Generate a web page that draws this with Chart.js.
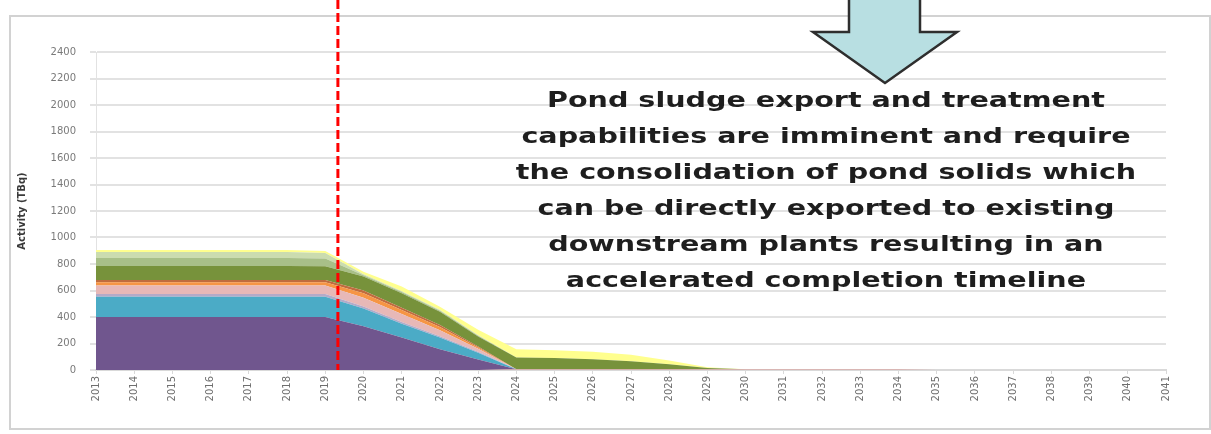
<!DOCTYPE html>
<html>
<head>
<meta charset="utf-8">
<script src="https://cdn.jsdelivr.net/npm/chart.js@4.4.0/dist/chart.umd.min.js"></script>
<style>
  html, body { margin: 0; padding: 0; background: #fff; }
  #wrap { position: relative; width: 1211px; height: 434px; overflow: hidden; }
  #frame { position: absolute; left: 9px; top: 15px; width: 1198px; height: 411px; border: 2px solid #d2d2d2; }
  #chart { position: absolute; left: 0; top: 0; }
  #note {
    position: absolute; left: 496px; top: 82px; width: 660px;
    font: 700 22px "DejaVu Sans", sans-serif; line-height: 36px;
    text-align: center; color: #1e1e1e;
    transform: scaleX(1.3); transform-origin: 330px 0;
  }
  #arrow { position: absolute; left: 0; top: 0; }
</style>
</head>
<body>
<div id="wrap">
  <div id="frame"></div>
  <canvas id="chart" width="1211" height="434"></canvas>
  <svg id="arrow" width="1211" height="434">
    <polygon points="849,-5 849,32 813,32 885,83 957,32 920,32 920,-5"
             fill="#b8dfe2" stroke="#2e2e2e" stroke-width="2.5" stroke-linejoin="miter"/>
  </svg>
  <div id="note">
    Pond sludge export and treatment<br>
    capabilities are imminent and require<br>
    the consolidation of pond solids which<br>
    can be directly exported to existing<br>
    downstream plants resulting in an<br>
    accelerated completion timeline
  </div>
</div>
<script>
// years along the bottom
const years = ['2013','2014','2015','2016','2017','2018','2019','2020','2021','2022',
  '2023','2024','2025','2026','2027','2028','2029','2030','2031','2032',
  '2033','2034','2035','2036','2037','2038','2039','2040','2041'];

// stacked activity layers (TBq), bottom to top
const trace      = [0,0,0,0,0,0,0,0,0,0,0,6,6,6,6,6,6,6,6,6,6,6,0,0,0,0,0,0,0];
const purple     = [400,400,400,400,400,400,400,330,246,156,80,0,0,0,0,0,0,0,0,0,0,0,0,0,0,0,0,0,0];
const cyan       = [153,153,153,153,153,153,153,135,104,89,50,0,0,0,0,0,0,0,0,0,0,0,0,0,0,0,0,0,0];
const lavender   = [20,20,20,20,20,20,20,15,12,10,8,0,0,0,0,0,0,0,0,0,0,0,0,0,0,0,0,0,0];
const pink       = [64,64,64,64,64,64,64,65,60,45,22,0,0,0,0,0,0,0,0,0,0,0,0,0,0,0,0,0,0];
const orange     = [25,25,25,25,25,25,25,35,30,25,10,0,0,0,0,0,0,0,0,0,0,0,0,0,0,0,0,0,0];
const brown      = [18,18,18,18,18,18,18,20,18,15,8,0,0,0,0,0,0,0,0,0,0,0,0,0,0,0,0,0,0];
const green      = [105,105,105,105,105,105,103,105,110,100,75,88,84,76,60,38,10,0,0,0,0,0,0,0,0,0,0,0,0];
const greyGreen  = [60,60,60,60,60,60,58,10,8,7,5,0,0,0,0,0,0,0,0,0,0,0,0,0,0,0,0,0,0];
const paleGreen  = [45,45,45,45,45,45,42,7,7,6,4,0,0,0,0,0,0,0,0,0,0,0,0,0,0,0,0,0,0];
const yellow     = [15,15,15,15,15,15,15,20,35,25,41,63,60,56,50,28,4,0,0,0,0,0,0,0,0,0,0,0,0];

const yTicksMax = 2400;
const yStep = 200;
const todayIndex = 6.33; // where the red dashed marker sits

const layers = [
  [trace, '#d9aaa8'],
  [purple, '#70568e'],
  [cyan, '#4babc6'],
  [lavender, '#b4aac8'],
  [pink, '#e7b8b7'],
  [orange, '#f69544'],
  [brown, '#c06c3e'],
  [green, '#77923b'],
  [greyGreen, '#a8bf88'],
  [paleGreen, '#cbdcaf'],
  [yellow, '#ffff8e']
];

const datasets = layers.map(([vals, col], i) => ({
  data: vals,
  backgroundColor: col,
  borderWidth: 0,
  pointRadius: 0,
  fill: i === 0 ? 'origin' : '-1',
  tension: 0
}));

const markerLine = {
  id: 'markerLine',
  afterDatasetsDraw(chart) {
    const x = chart.scales.x;
    const i = Math.floor(todayIndex);
    const px = x.getPixelForValue(i) + (todayIndex - i) * (x.getPixelForValue(i + 1) - x.getPixelForValue(i));
    const ctx = chart.ctx;
    ctx.save();
    ctx.strokeStyle = '#ff0000';
    ctx.lineWidth = 3;
    ctx.setLineDash([9, 4]);
    ctx.beginPath();
    ctx.moveTo(px, 0);
    ctx.lineTo(px, chart.chartArea.bottom);
    ctx.stroke();
    ctx.restore();
  }
};

new Chart(document.getElementById('chart'), {
  type: 'line',
  data: { labels: years, datasets: datasets },
  options: {
    responsive: false,
    animation: false,
    layout: { padding: { left: 10, top: 52, right: 45, bottom: 24 } },
    plugins: { legend: { display: false }, tooltip: { enabled: false } },
    scales: {
      x: {
        offset: false,
        afterFit: (s) => { s.height = 40; },
        grid: { drawOnChartArea: false, tickLength: 4, color: '#d9d9d9' },
        border: { color: '#d9d9d9', width: 2 },
        ticks: {
          autoSkip: false, minRotation: 90, maxRotation: 90, padding: 2,
          color: '#6e6e6e', font: { size: 10, family: 'DejaVu Sans' }
        }
      },
      y: {
        stacked: true,
        min: 0,
        max: yTicksMax,
        afterFit: (s) => { s.width = 86; },
        grid: { color: '#e2e2e2', lineWidth: 2, tickLength: 6 },
        border: { display: true, color: '#e2e2e2', width: 1 },
        ticks: {
          stepSize: yStep, padding: 14,
          callback: (v) => String(v),
          color: '#7a7a7a', font: { size: 10, family: 'DejaVu Sans' }
        },
        title: {
          display: true, text: 'Activity (TBq)', padding: { top: 6, bottom: 0 },
          color: '#3a3a3a', font: { size: 10, weight: 'bold', family: 'DejaVu Sans' }
        }
      }
    }
  },
  plugins: [markerLine]
});
</script>
</body>
</html>
